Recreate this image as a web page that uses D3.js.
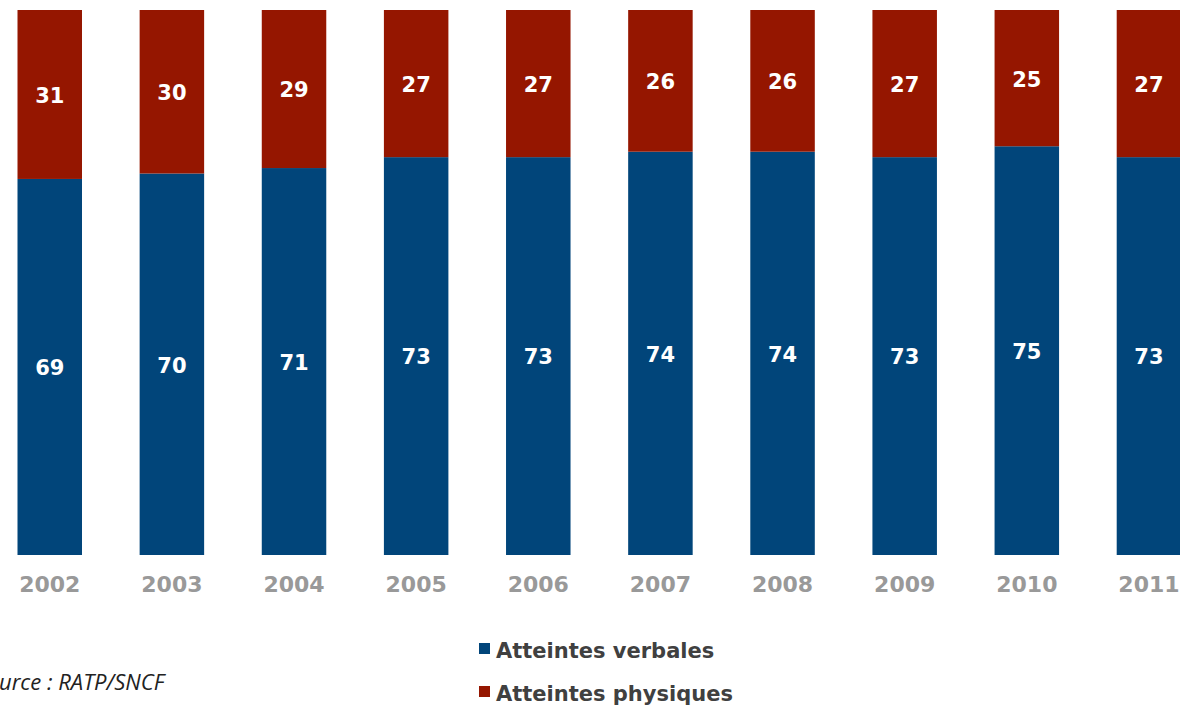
<!DOCTYPE html>
<html><head><meta charset="utf-8">
<script src="https://cdn.jsdelivr.net/npm/d3@7"></script>
<style>html,body{margin:0;padding:0;background:#fff;overflow:hidden}</style>
</head><body>
<svg id="c" width="1180" height="708"></svg>
<script>
const years = ["2002","2003","2004","2005","2006","2007","2008","2009","2010","2011"];
const verbales = [69,70,71,73,73,74,74,73,75,73];
const physiques = [31,30,29,27,27,26,26,27,25,27];
const seriesNames = ["Atteintes verbales","Atteintes physiques"];
const seriesColors = ["#01457A","#951600"];
const sourceText = "Source : RATP/SNCF";

const svg = d3.select("#c");
const font = "'DejaVu Sans', Verdana, sans-serif";

const x = d3.scaleBand().domain(years).range([17.5, 1181.2]).paddingInner(0.4719).paddingOuter(0);
const y = d3.scaleLinear().domain([0,100]).range([555, 10]);

const rows = years.map((yr,i)=>({year:yr, v:verbales[i], p:physiques[i]}));
const stack = d3.stack().keys(["v","p"])(rows);

const g = svg.append("g");
stack.forEach((layer,si)=>{
  const lg = g.append("g").attr("fill", seriesColors[si]);
  lg.selectAll("rect").data(layer).join("rect")
    .attr("x", d=>x(d.data.year))
    .attr("width", x.bandwidth())
    .attr("y", d=>y(d[1]))
    .attr("height", d=>y(d[0])-y(d[1]));
  g.append("g").selectAll("text").data(layer).join("text")
    .attr("x", d=>x(d.data.year)+x.bandwidth()/2)
    .attr("y", d=>(y(d[0])+y(d[1]))/2)
    .attr("dy","0.4em")
    .attr("text-anchor","middle")
    .attr("fill","#fff")
    .style("font-family", font).style("font-weight","bold").style("font-size","21px")
    .text(d=>d[1]-d[0]);
});

// x axis labels
const xAxis = d3.axisBottom(x).tickSize(0).tickPadding(0);
const ax = svg.append("g").attr("transform","translate(0,576)").call(xAxis);
ax.select(".domain").remove();
ax.selectAll("text").attr("dy","0.71em").attr("y",0)
  .attr("fill","#999999").style("font-family",font).style("font-weight","bold").style("font-size","22px");

// legend
const leg = svg.append("g");
seriesNames.forEach((n,i)=>{
  const yy = 643 + i*43;
  leg.append("rect").attr("x",479).attr("y",yy).attr("width",11).attr("height",11).attr("fill",seriesColors[i]);
  leg.append("text").attr("x",496).attr("y",yy+14.5).attr("fill","#404040")
    .style("font-family",font).style("font-weight","bold").style("font-size","21px").text(n);
});

// source
const srcFont = "'Open Sans', Lato, sans-serif";
const src = svg.append("text").attr("y",690).attr("fill","#222")
  .style("font-family",srcFont).style("font-style","italic").style("font-size","22px")
  .text(sourceText);
const tmp = svg.append("text").style("font-family",srcFont).style("font-style","italic").style("font-size","22px").text("So");
const w = tmp.node().getComputedTextLength();
tmp.remove();
src.attr("x", -w - 1);
</script>
</body></html>
